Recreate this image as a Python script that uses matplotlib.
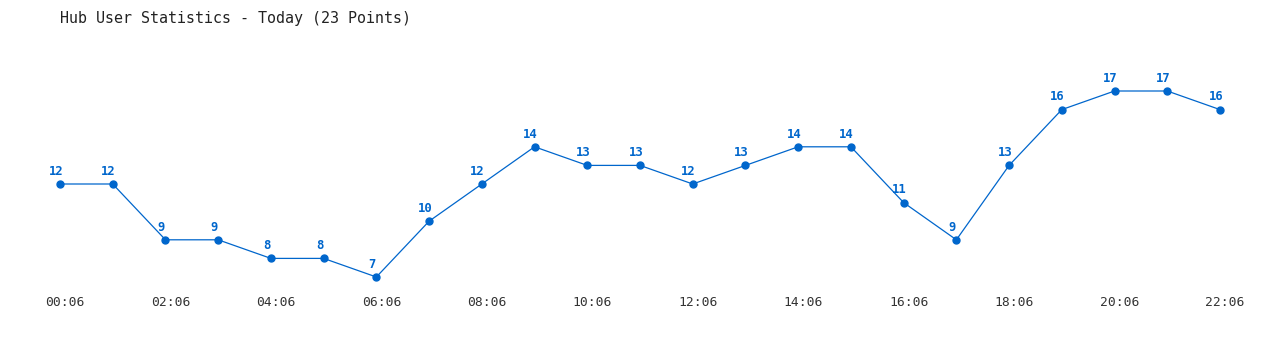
import matplotlib
matplotlib.use("Agg")
import matplotlib.pyplot as plt
import matplotlib.transforms as mtransforms

times = ["00:06", "01:06", "02:06", "03:06", "04:06", "05:06", "06:06", "07:06",
         "08:06", "09:06", "10:06", "11:06", "12:06", "13:06", "14:06", "15:06",
         "16:06", "17:06", "18:06", "19:06", "20:06", "21:06", "22:06"]
users = [12, 12, 9, 9, 8, 8, 7, 10, 12, 14, 13, 13, 12, 13, 14, 14, 11, 9, 13, 16, 17, 17, 16]
title = "Hub User Statistics - Today (23 Points)"

color = "#0066cc"
W, H = 1280, 350
fig = plt.figure(figsize=(W / 100, H / 100), dpi=100)
ax = fig.add_axes([60 / W, 73 / H, 1160 / W, 186 / H])
x = list(range(len(users)))
ax.plot(x, users, color=color, lw=0.9, marker="o", markersize=5, clip_on=False)
for xi, v in zip(x, users):
    ax.annotate(str(v), (xi, v), xytext=(-3, 4.5), textcoords="offset points",
                ha="center", va="bottom", color=color, fontsize=8.8,
                fontweight="bold", family="DejaVu Sans Mono")
ax.set_xlim(0, len(users) - 1)
ax.set_ylim(7, 17)
ax.set_xticks(x[::2])
ax.set_xticklabels(times[::2], family="DejaVu Sans Mono", fontsize=9.4, color="#333333")
ax.tick_params(axis="x", length=0, pad=14)
shift = mtransforms.ScaledTranslation(5 / 100, 0, fig.dpi_scale_trans)
for lab in ax.get_xticklabels():
    lab.set_transform(lab.get_transform() + shift)
ax.set_yticks([])
for s in ax.spines.values():
    s.set_visible(False)
fig.text(60 / W, 1 - 18 / H, title, family="DejaVu Sans Mono", fontsize=10.8,
         color="#222222", ha="left", va="center")
fig.savefig("out.png", dpi=100)
